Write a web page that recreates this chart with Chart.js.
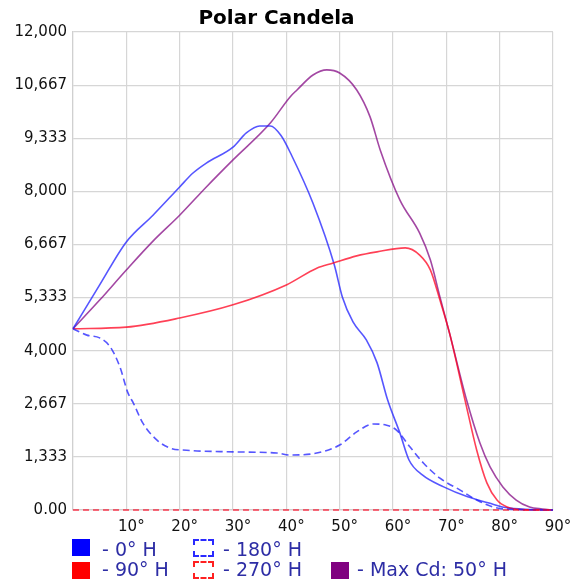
<!DOCTYPE html>
<html>
<head>
<meta charset="utf-8">
<script src="https://cdn.jsdelivr.net/npm/chart.js@4/dist/chart.umd.min.js"></script>
<style>
  html, body { margin: 0; padding: 0; background: #fff; }
  #wrap { position: relative; width: 579px; height: 586px; overflow: hidden; }
  canvas { position: absolute; left: 0; top: 0; }
  .lg { position: absolute; font-family: "DejaVu Sans", sans-serif; font-size: 19px; line-height: 19px; color: #2d2da5; white-space: nowrap; }
  .sq { position: absolute; width: 18px; height: 17px; }
  .dsh { position: absolute; width: 17px; height: 14px; border: 2px dashed; box-sizing: content-box; }
</style>
</head>
<body>
<div id="wrap">
  <canvas id="c" width="579" height="586"></canvas>
  <div class="sq" style="left:72px;top:539px;background:#0000ff"></div>
  <div class="lg" style="left:102px;top:540px">- 0° H</div>
  <div class="dsh" style="left:193px;top:539px;border-color:#2a2aff"></div>
  <div class="lg" style="left:223px;top:540px">- 180° H</div>
  <div class="sq" style="left:72px;top:562px;background:#ff0000"></div>
  <div class="lg" style="left:102px;top:560px">- 90° H</div>
  <div class="dsh" style="left:193px;top:561px;border-color:#ff2020"></div>
  <div class="lg" style="left:223px;top:560px">- 270° H</div>
  <div class="sq" style="left:331px;top:562px;background:#800080"></div>
  <div class="lg" style="left:357px;top:560px">- Max Cd: 50° H</div>
</div>
<script>
// ---- data (vertical angle in degrees, candela) ----
const titleText = 'Polar Candela';
const yTickLabels = ['0.00','1,333','2,667','4,000','5,333','6,667','8,000','9,333','10,667','12,000'];
const xTickLabels = ['', '10°','20°','30°','40°','50°','60°','70°','80°','90°'];

const angles0 = [0,5,10,15,20,22.5,25,30,32.5,35,37,39,41,45,49,50.5,52.5,55,57,59,61.3,63,65.5,69.5,74,78,80.5,84,90];
const cd0     = [4550,5650,6730,7400,8110,8460,8710,9110,9465,9640,9640,9400,8900,7700,6150,5350,4720,4270,3700,2760,1930,1255,880,580,330,175,75,25,0];

const angles180 = [0,2.6,5,7,8.8,10.3,11.3,13.1,15.7,18.2,21.3,30,38.2,40.7,45.7,50,53.2,56.3,58.8,60.7,63.2,65.7,68.8,72.6,75.7,78.8,81,90];
const cd180     = [4550,4390,4320,4090,3590,2940,2690,2180,1760,1555,1500,1460,1430,1380,1430,1630,1960,2160,2130,2000,1580,1180,800,500,250,75,25,0];

const angles90 = [0,10,20,30,40,45.7,48.8,53.2,57,62.3,65,67,68.8,70.6,73.5,75.7,77.6,79.5,81.4,84,90];
const cd90     = [4550,4590,4820,5150,5650,6070,6200,6380,6480,6580,6400,6030,5270,4440,2760,1500,680,250,75,10,0];

const angles270 = [0,90];
const cd270     = [0,0];

const anglesMax = [0,5,10,15,20,25,30,37,40.7,42,45,47.6,50,53.2,55.7,57.6,61.3,65,67,68.8,70.6,73.8,76.3,78.2,80.6,83.1,85.6,88,90];
const cdMax     = [4550,5270,6025,6750,7400,8110,8790,9715,10370,10545,10920,11050,10970,10545,9870,9040,7780,6950,6280,5350,4440,2760,1680,1080,580,250,75,25,0];

const pts = (a, v) => a.map((x, i) => ({ x: x, y: v[i] }));

const blue = 'rgba(30,30,255,0.75)';
const red = 'rgba(255,0,30,0.75)';
const purple = 'rgba(128,0,128,0.72)';

const ds = (label, a, v, color, dash) => ({
  label: label,
  data: pts(a, v),
  borderColor: color,
  backgroundColor: color,
  borderWidth: 1.6,
  borderDash: dash || [],
  pointRadius: 0,
  fill: false,
  cubicInterpolationMode: 'monotone',
  clip: false
});

new Chart(document.getElementById('c'), {
  type: 'line',
  data: {
    datasets: [
      ds('- 270° H', angles270, cd270, red, [6, 4]),
      ds('- 180° H', angles180, cd180, blue, [7, 4]),
      ds('- 90° H', angles90, cd90, red),
      ds('- 0° H', angles0, cd0, blue),
      ds('- Max Cd: 50° H', anglesMax, cdMax, purple)
    ]
  },
  options: {
    responsive: false,
    animation: false,
    devicePixelRatio: 1,
    layout: { padding: { left: 0, right: 26, top: 0, bottom: 46 } },
    plugins: {
      legend: { display: false },
      tooltip: { enabled: false },
      title: {
        display: true,
        text: titleText,
        color: '#000',
        font: { family: 'DejaVu Sans', size: 20, weight: 'bold' },
        padding: { top: 7, bottom: 1 }
      }
    },
    scales: {
      x: {
        type: 'linear',
        min: 0, max: 90,
        afterFit: s => { s.height = 30; },
        afterBuildTicks: s => { s.ticks = xTickLabels.map((_, i) => ({ value: i * 10 })); },
        ticks: {
          autoSkip: false,
          maxRotation: 0,
          padding: 8,
          labelOffset: 5,
          color: '#111',
          font: { family: 'DejaVu Sans', size: 15 },
          callback: (v, i) => xTickLabels[i]
        },
        grid: { color: '#d6d6d6', lineWidth: 1.2, drawTicks: false },
        border: { color: '#d0d0d0', width: 1.2 }
      },
      y: {
        type: 'linear',
        min: 0, max: 12000,
        afterFit: s => { s.width = 73; },
        afterBuildTicks: s => { s.ticks = yTickLabels.map((_, i) => ({ value: i * 12000 / 9 })); },
        ticks: {
          autoSkip: false,
          padding: 6,
          color: '#111',
          font: { family: 'DejaVu Sans', size: 15 },
          callback: (v, i) => yTickLabels[i]
        },
        grid: { color: '#d6d6d6', lineWidth: 1.2, drawTicks: false },
        border: { color: '#d0d0d0', width: 1.2 }
      }
    }
  }
});
</script>
</body>
</html>
